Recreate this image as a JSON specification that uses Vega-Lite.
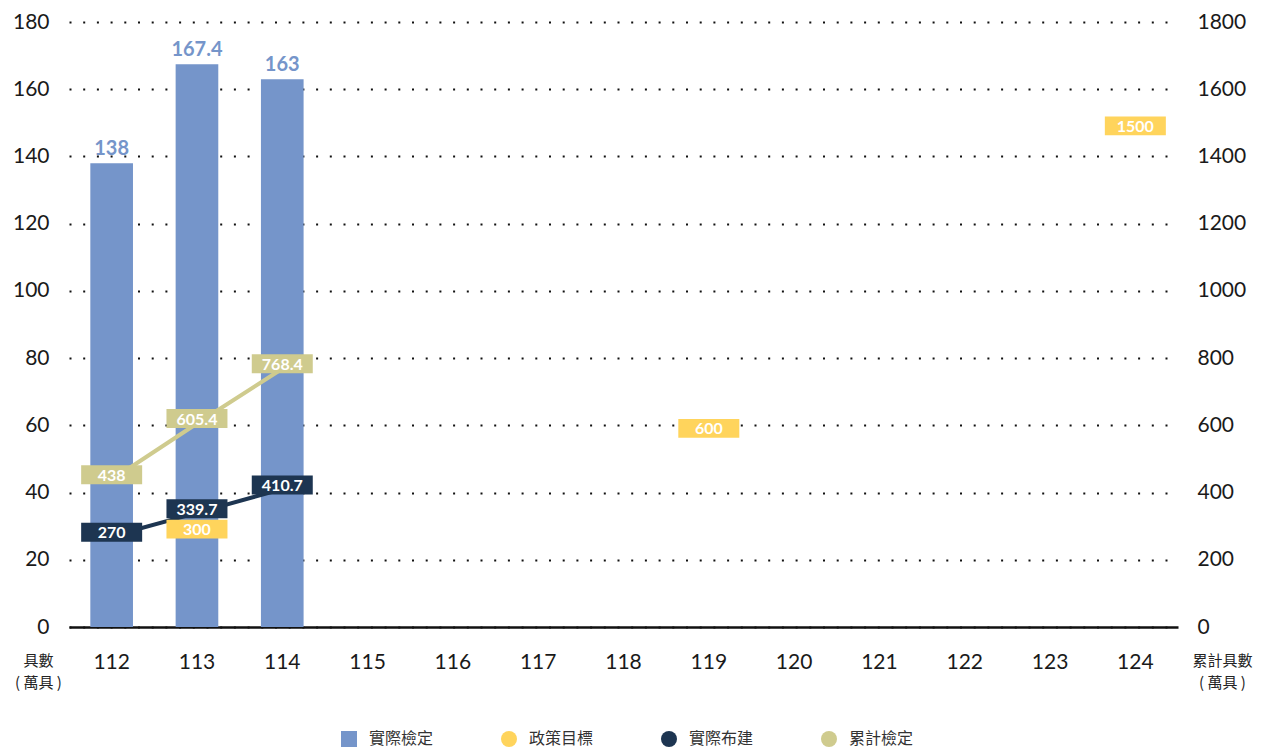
{
  "$schema": "https://vega.github.io/schema/vega-lite/v6.json",
  "width": 1109,
  "height": 605,
  "autosize": {"type": "none"},
  "padding": {"left": 69, "top": 22, "right": 96, "bottom": 122},
  "background": "white",
  "config": {
    "font": "Lato, Noto Sans CJK TC",
    "view": {"stroke": null},
    "axis": {"labelFont": "Lato, Noto Sans CJK TC", "titleFont": "Noto Sans CJK TC", "labelColor": "#1a1a1a"}
  },
  "data": {
    "values": [
      {"year": "112", "series": "實際檢定", "value": 138},
      {"year": "113", "series": "實際檢定", "value": 167.4},
      {"year": "114", "series": "實際檢定", "value": 163},
      {"year": "113", "series": "政策目標", "value": 300},
      {"year": "119", "series": "政策目標", "value": 600},
      {"year": "124", "series": "政策目標", "value": 1500},
      {"year": "112", "series": "實際布建", "value": 270},
      {"year": "113", "series": "實際布建", "value": 339.7},
      {"year": "114", "series": "實際布建", "value": 410.7},
      {"year": "112", "series": "累計檢定", "value": 438},
      {"year": "113", "series": "累計檢定", "value": 605.4},
      {"year": "114", "series": "累計檢定", "value": 768.4}
    ]
  },
  "encoding": {
    "x": {
      "field": "year",
      "type": "ordinal",
      "scale": {
        "domain": ["112", "113", "114", "115", "116", "117", "118", "119", "120", "121", "122", "123", "124"],
        "paddingInner": 0.5,
        "paddingOuter": 0.25
      },
      "axis": {
        "title": null,
        "labelAngle": 0,
        "labelFontSize": 21,
        "labelPadding": 24,
        "ticks": false,
        "grid": false,
        "domain": true,
        "domainColor": "#111111",
        "domainWidth": 2.5
      }
    }
  },
  "layer": [
    {
      "transform": [{"filter": "datum.series === '實際檢定'"}],
      "encoding": {
        "y": {
          "field": "value",
          "type": "quantitative",
          "scale": {"domain": [0, 180], "nice": false},
          "axis": {
            "orient": "left",
            "values": [0, 20, 40, 60, 80, 100, 120, 140, 160, 180],
            "grid": true,
            "gridDash": [2, 11.7],
            "gridWidth": 2,
            "gridColor": "#111111",
            "ticks": false,
            "domain": false,
            "labelFontSize": 21,
            "labelPadding": 20,
            "title": ["具數", "( 萬具 )"],
            "titleAngle": 0,
            "titleX": -31,
            "titleY": 631,
            "titleAlign": "center",
            "titleBaseline": "top",
            "titleFontSize": 15,
            "titleFontWeight": "normal",
            "titleColor": "#222222",
            "titleLineHeight": 22
          }
        }
      },
      "layer": [
        {
          "mark": {"type": "bar"},
          "encoding": {
            "color": {
              "field": "series",
              "type": "nominal",
              "scale": {
                "domain": ["實際檢定", "政策目標", "實際布建", "累計檢定"],
                "range": ["#7595ca", "#ffd45c", "#1d3551", "#cfcb8e"]
              },
              "legend": {
                "title": null,
                "orient": "none",
                "direction": "horizontal",
                "legendX": 272,
                "legendY": 709,
                "symbolType": "circle",
                "symbolSize": 256,
                "labelFontSize": 16,
                "labelColor": "#333333",
                "labelFont": "Noto Sans CJK TC",
                "labelOffset": 12,
                "columnPadding": 67,
                "encode": {
                  "symbols": {
                    "update": {
                      "shape": {"signal": "datum.value === '實際檢定' ? 'square' : 'circle'"},
                      "fill": {"scale": "color", "field": "value"},
                      "fillOpacity": {"value": 1},
                      "opacity": {"value": 1},
                      "strokeWidth": {"value": 0}
                    }
                  }
                }
              }
            }
          }
        },
        {
          "mark": {"type": "text", "baseline": "bottom", "dy": -4, "fontSize": 20, "fontWeight": "bold", "color": "#7595ca"},
          "encoding": {"text": {"field": "value", "type": "quantitative"}}
        }
      ]
    },
    {
      "encoding": {
        "y": {
          "field": "value",
          "type": "quantitative",
          "scale": {"domain": [0, 1800], "nice": false}
        },
        "color": {
          "field": "series",
          "type": "nominal",
          "scale": {
            "domain": ["實際檢定", "政策目標", "實際布建", "累計檢定"],
            "range": ["#7595ca", "#ffd45c", "#1d3551", "#cfcb8e"]
          }
        }
      },
      "layer": [
        {
          "transform": [{"filter": "datum.series === '累計檢定'"}],
          "mark": {"type": "line", "strokeWidth": 4},
          "encoding": {
            "y": {
              "field": "value",
              "type": "quantitative",
              "scale": {"domain": [0, 1800], "nice": false},
              "axis": {
                "orient": "right",
                "values": [0, 200, 400, 600, 800, 1000, 1200, 1400, 1600, 1800],
                "format": "d",
                "grid": false,
                "ticks": false,
                "domain": false,
                "labelFontSize": 21,
                "labelPadding": 19,
                "title": ["累計具數", "( 萬具 )"],
                "titleAngle": 0,
                "titleX": 44,
                "titleY": 631,
                "titleAlign": "center",
                "titleBaseline": "top",
                "titleFontSize": 15,
                "titleFontWeight": "normal",
                "titleColor": "#222222",
                "titleLineHeight": 22
              }
            }
          }
        },
        {
          "transform": [{"filter": "datum.series === '實際布建'"}],
          "mark": {"type": "line", "strokeWidth": 4}
        },
        {
          "transform": [{"filter": "datum.series === '政策目標'"}],
          "mark": {"type": "point", "shape": "M-1,-0.31H1V0.31H-1Z", "size": 3721, "filled": true, "opacity": 1, "yOffset": 3}
        },
        {
          "transform": [{"filter": "datum.series === '政策目標'"}],
          "mark": {"type": "text", "fontSize": 16, "fontWeight": "bold", "color": "white", "baseline": "middle", "dy": 4},
          "encoding": {"text": {"field": "value", "type": "quantitative"}, "color": {"value": "white"}}
        },
        {
          "transform": [{"filter": "datum.series === '累計檢定'"}],
          "mark": {"type": "point", "shape": "M-1,-0.31H1V0.31H-1Z", "size": 3721, "filled": true, "opacity": 1, "yOffset": -5}
        },
        {
          "transform": [{"filter": "datum.series === '累計檢定'"}],
          "mark": {"type": "text", "fontSize": 16, "fontWeight": "bold", "color": "white", "baseline": "middle", "dy": -4},
          "encoding": {"text": {"field": "value", "type": "quantitative"}, "color": {"value": "white"}}
        },
        {
          "transform": [{"filter": "datum.series === '實際布建'"}],
          "mark": {"type": "point", "shape": "M-1,-0.31H1V0.31H-1Z", "size": 3721, "filled": true, "opacity": 1, "yOffset": -4}
        },
        {
          "transform": [{"filter": "datum.series === '實際布建'"}],
          "mark": {"type": "text", "fontSize": 16, "fontWeight": "bold", "color": "white", "baseline": "middle", "dy": -3},
          "encoding": {"text": {"field": "value", "type": "quantitative"}, "color": {"value": "white"}}
        }
      ]
    }
  ],
  "resolve": {"scale": {"y": "independent"}}
}
